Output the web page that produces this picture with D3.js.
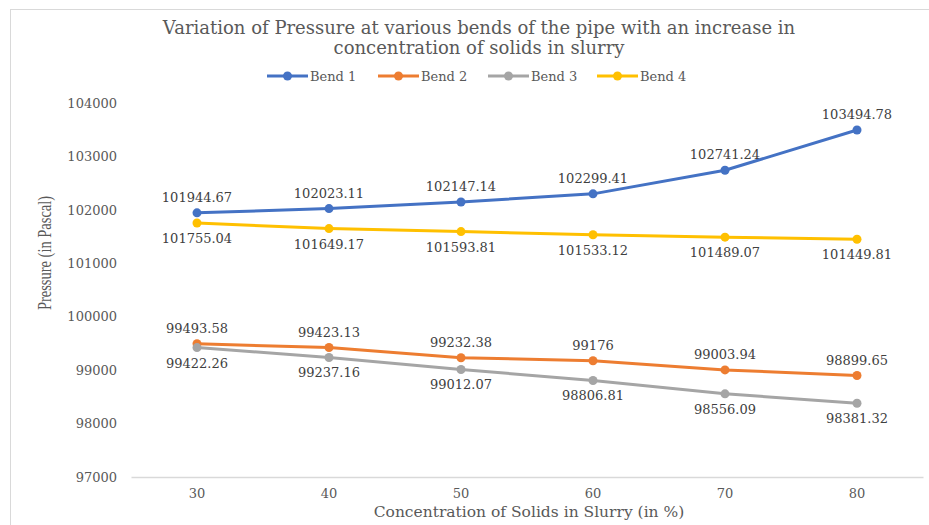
<!DOCTYPE html>
<html>
<head>
<meta charset="utf-8">
<script src="https://cdn.jsdelivr.net/npm/d3@7"></script>
<style>
  html, body { margin: 0; padding: 0; background: #fff; }
  svg { display: block; }
</style>
</head>
<body>
<svg id="chart" width="929" height="525"></svg>
<script>
const categories = ["30", "40", "50", "60", "70", "80"];
const seriesNames = ["Bend 1", "Bend 2", "Bend 3", "Bend 4"];
const bend1 = [101944.67, 102023.11, 102147.14, 102299.41, 102741.24, 103494.78];
const bend2 = [99493.58, 99423.13, 99232.38, 99176, 99003.94, 98899.65];
const bend3 = [99422.26, 99237.16, 99012.07, 98806.81, 98556.09, 98381.32];
const bend4 = [101755.04, 101649.17, 101593.81, 101533.12, 101489.07, 101449.81];
const yTicks = [97000, 98000, 99000, 100000, 101000, 102000, 103000, 104000];
const titleLines = ["Variation of Pressure at various bends of the pipe with an increase in", "concentration of solids in slurry"];
const xTitle = "Concentration of Solids in Slurry (in %)";
const yTitle = "Pressure (in Pascal)";

const colors = ["#4472C4", "#ED7D31", "#A5A5A5", "#FFC000"];
const labelPos = ["above", "above", "below", "below"];
const seriesValues = [bend1, bend2, bend3, bend4];

const svg = d3.select("#chart");
const plot = { left: 131, right: 923, top: 103, bottom: 477 };
const FONT = "'DejaVu Serif', 'Liberation Serif', serif";
const NARROW = "'Liberation Serif', serif";

// outer border
svg.append("rect").attr("x", 10.5).attr("y", 9.5).attr("width", 940).attr("height", 530)
  .attr("fill", "none").attr("stroke", "#d9d9d9").attr("stroke-width", 1);

const x = d3.scaleBand().domain(categories).range([plot.left, plot.right]);
const y = d3.scaleLinear().domain([97000, 104000]).range([plot.bottom, plot.top]);
const cx = c => x(c) + x.bandwidth() / 2;

// title
svg.append("text").attr("x", 479).attr("y", 34).attr("text-anchor", "middle")
  .style("font-family", FONT).style("font-size", "18px").attr("fill", "#595959")
  .selectAll("tspan").data(titleLines).join("tspan")
  .attr("x", 479).attr("dy", (d, i) => i === 0 ? 0 : 20).text(d => d);

// y axis ticks (labels only)
const yAxis = d3.axisLeft(y).tickValues(yTicks).tickSize(0).tickPadding(0).tickFormat(d3.format("d"));
const yg = svg.append("g").attr("transform", `translate(${117},0)`).call(yAxis);
yg.select(".domain").remove();
yg.selectAll("text").style("font-size", "13px").attr("fill", "#595959").style("font-family", FONT);

// x axis
const xAxis = d3.axisBottom(x).tickSize(0).tickPadding(0);
const xg = svg.append("g").attr("transform", `translate(0,${plot.bottom})`).call(xAxis);
xg.select(".domain").attr("stroke", "#d9d9d9").attr("stroke-width", 1.3);
xg.selectAll("text").style("font-size", "13px").attr("fill", "#595959").attr("dy", "1.6em")
  .style("font-family", FONT);

// axis titles
svg.append("text").attr("x", 529).attr("y", 517).attr("text-anchor", "middle")
  .style("font-family", FONT).style("font-size", "15.5px").attr("fill", "#595959").text(xTitle);
svg.append("text").attr("transform", "translate(51,253) scale(1.3,1) rotate(-90)").attr("text-anchor", "middle")
  .style("font-family", NARROW).style("font-size", "14.5px").attr("fill", "#595959").text(yTitle);

// series
const line = d3.line().x((d, i) => cx(categories[i])).y(d => y(d));
seriesValues.forEach((vals, s) => {
  const g = svg.append("g");
  g.append("path").datum(vals).attr("d", line).attr("fill", "none")
    .attr("stroke", colors[s]).attr("stroke-width", 3).attr("stroke-linejoin", "round");
  g.selectAll("circle").data(vals).join("circle")
    .attr("cx", (d, i) => cx(categories[i])).attr("cy", d => y(d)).attr("r", 4.5)
    .attr("fill", colors[s]);
  g.selectAll("text").data(vals).join("text")
    .attr("x", (d, i) => cx(categories[i]))
    .attr("y", d => labelPos[s] === "above" ? y(d) - 11 : y(d) + 20)
    .attr("text-anchor", "middle").style("font-family", FONT).style("font-size", "13px")
    .attr("fill", "#404040")
    .text(d => String(d));
});

// legend
const legendX = [267, 378, 488, 597];
const lg = svg.append("g");
seriesNames.forEach((name, i) => {
  const lx = legendX[i];
  lg.append("line").attr("x1", lx).attr("x2", lx + 41).attr("y1", 76).attr("y2", 76)
    .attr("stroke", colors[i]).attr("stroke-width", 3);
  lg.append("circle").attr("cx", lx + 20.5).attr("cy", 76).attr("r", 4.5).attr("fill", colors[i]);
  lg.append("text").attr("x", lx + 43).attr("y", 80.5)
    .style("font-family", FONT).style("font-size", "13px").attr("fill", "#595959").text(name);
});
</script>
</body>
</html>
